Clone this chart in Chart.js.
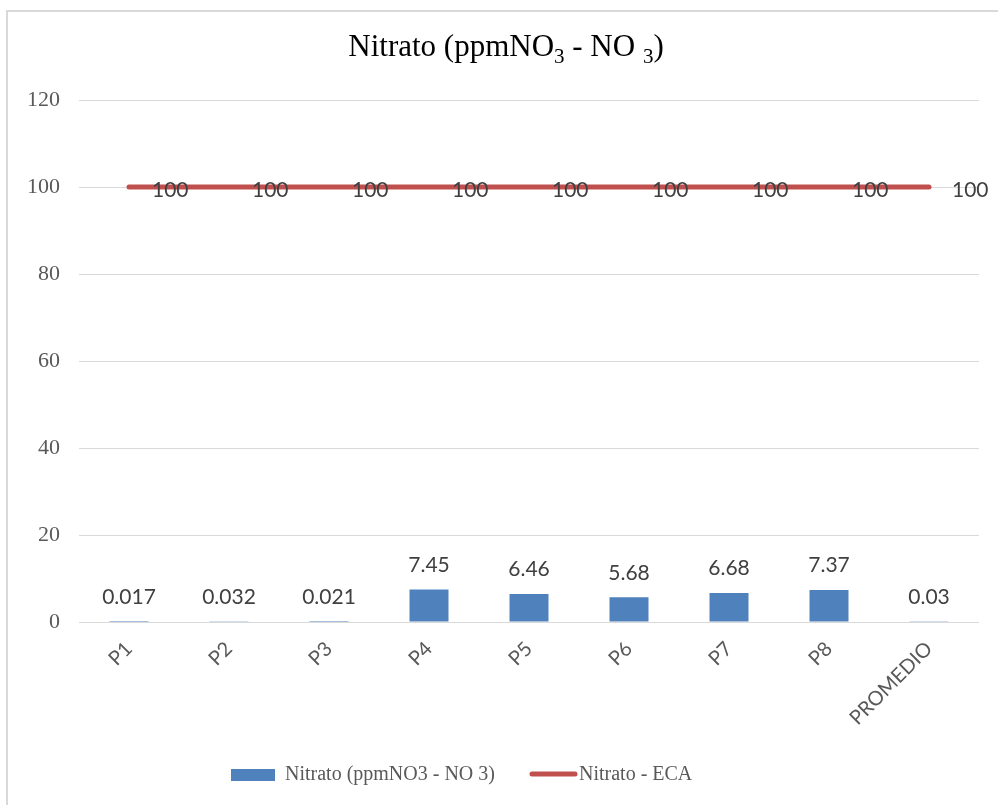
<!DOCTYPE html>
<html>
<head>
<meta charset="utf-8">
<script src="https://cdn.jsdelivr.net/npm/chart.js@4/dist/chart.umd.min.js"></script>
<style>
  html, body { margin: 0; padding: 0; background: #ffffff; }
  #frame { position: absolute; left: 6px; top: 10px; width: 992px; height: 800px;
           border-left: 2px solid #d9d9d9; border-top: 2px solid #d9d9d9; box-sizing: border-box; }
  #wrap { position: absolute; left: 0; top: 0; width: 998px; height: 805px; }
</style>
</head>
<body>
<div id="frame"></div>
<div id="wrap"><canvas id="c" width="998" height="805"></canvas></div>
<script>
// Sampling points and their nitrate readings
const categories = ['P1', 'P2', 'P3', 'P4', 'P5', 'P6', 'P7', 'P8', 'PROMEDIO'];
const nitrato = [0.017, 0.032, 0.021, 7.45, 6.46, 5.68, 6.68, 7.37, 0.03];
const eca = [100, 100, 100, 100, 100, 100, 100, 100, 100];
const yTicks = [0, 20, 40, 60, 80, 100, 120];

const seriesNames = ['Nitrato (ppmNO3 - NO 3)', 'Nitrato - ECA'];
// Title pieces: normal text and subscripts
const titleParts = [
  { t: 'Nitrato (ppmNO', sub: false },
  { t: '3', sub: true },
  { t: ' - NO ', sub: false },
  { t: '3', sub: true },
  { t: ')', sub: false }
];

const BLUE = '#4f81bd';
const RED = '#c0504d';
const GRID = '#d9d9d9';
const TEXT = '#595959';
const LABEL = '#404040';

// Title with subscripts
const titlePlugin = {
  id: 'subTitle',
  afterDraw(chart) {
    const ctx = chart.ctx;
    const mainFont = '31px "Liberation Serif", "Times New Roman", serif';
    const subFont = '21px "Liberation Serif", "Times New Roman", serif';
    ctx.save();
    ctx.fillStyle = '#000000';
    ctx.textBaseline = 'alphabetic';
    ctx.textAlign = 'left';
    let total = 0;
    titleParts.forEach(p => { ctx.font = p.sub ? subFont : mainFont; total += ctx.measureText(p.t).width; });
    let x = 506 - total / 2;
    titleParts.forEach(p => {
      ctx.font = p.sub ? subFont : mainFont;
      ctx.fillText(p.t, x, p.sub ? 63 : 56);
      x += ctx.measureText(p.t).width;
    });
    ctx.restore();
  }
};

// Value labels: above the bars, to the right of the line points
const valueLabels = {
  id: 'valueLabels',
  afterDatasetsDraw(chart) {
    const ctx = chart.ctx;
    ctx.save();
    ctx.font = '21px Lato, "Open Sans", sans-serif';
    ctx.fillStyle = LABEL;
    ctx.textBaseline = 'middle';
    chart.data.datasets.forEach((ds, i) => {
      const meta = chart.getDatasetMeta(i);
      meta.data.forEach((el, j) => {
        const txt = String(ds.data[j]);
        if (ds.type === 'bar') {
          ctx.textAlign = 'center';
          ctx.fillText(txt, el.x, el.y - 24.5);
        } else {
          ctx.textAlign = 'left';
          ctx.fillText(txt, el.x + 23, el.y + 3);
        }
      });
    });
    ctx.restore();
  }
};

// Legend drawn beneath the axis
const legendPlugin = {
  id: 'bottomLegend',
  afterDraw(chart) {
    const ctx = chart.ctx;
    ctx.save();
    ctx.font = '20px "Liberation Serif", "Times New Roman", serif';
    ctx.fillStyle = BLUE;
    ctx.fillRect(231, 769, 44, 12);
    ctx.fillStyle = TEXT;
    ctx.textBaseline = 'middle';
    ctx.textAlign = 'left';
    ctx.fillText(seriesNames[0], 285, 775);
    ctx.strokeStyle = RED;
    ctx.lineWidth = 5;
    ctx.lineCap = 'round';
    ctx.beginPath();
    ctx.moveTo(532, 774);
    ctx.lineTo(575, 774);
    ctx.stroke();
    ctx.fillStyle = TEXT;
    ctx.fillText(seriesNames[1], 579, 775);
    ctx.restore();
  }
};

new Chart(document.getElementById('c'), {
  data: {
    labels: categories,
    datasets: [
      {
        type: 'line',
        label: seriesNames[1],
        data: eca,
        borderColor: RED,
        backgroundColor: RED,
        borderWidth: 5,
        borderCapStyle: 'round',
        pointRadius: 0,
        order: 0
      },
      {
        type: 'bar',
        label: seriesNames[0],
        data: nitrato,
        backgroundColor: BLUE,
        categoryPercentage: 1,
        barPercentage: 0.39,
        order: 1
      }
    ]
  },
  options: {
    responsive: false,
    animation: false,
    events: [],
    layout: { padding: { top: 100, right: 19, bottom: 63, left: 0 } },
    plugins: {
      legend: { display: false },
      title: { display: false },
      tooltip: { enabled: false }
    },
    scales: {
      x: {
        offset: true,
        grid: { display: false, drawTicks: false },
        border: { display: false },
        ticks: {
          minRotation: 45,
          maxRotation: 45,
          padding: 15,
          color: TEXT,
          font: { family: 'Lato, "Open Sans", sans-serif', size: 20 }
        },
        afterFit(scale) { scale.height = 120; }
      },
      y: {
        min: 0,
        max: 120,
        afterBuildTicks(scale) { scale.ticks = yTicks.map(v => ({ value: v })); },
        grid: { color: GRID, lineWidth: 1, drawTicks: false },
        border: { display: false },
        ticks: {
          padding: 19,
          color: TEXT,
          font: { family: '"Liberation Serif", "Times New Roman", serif', size: 22 }
        },
        afterFit(scale) { scale.width = 79; }
      }
    }
  },
  plugins: [valueLabels, titlePlugin, legendPlugin]
});
</script>
</body>
</html>
